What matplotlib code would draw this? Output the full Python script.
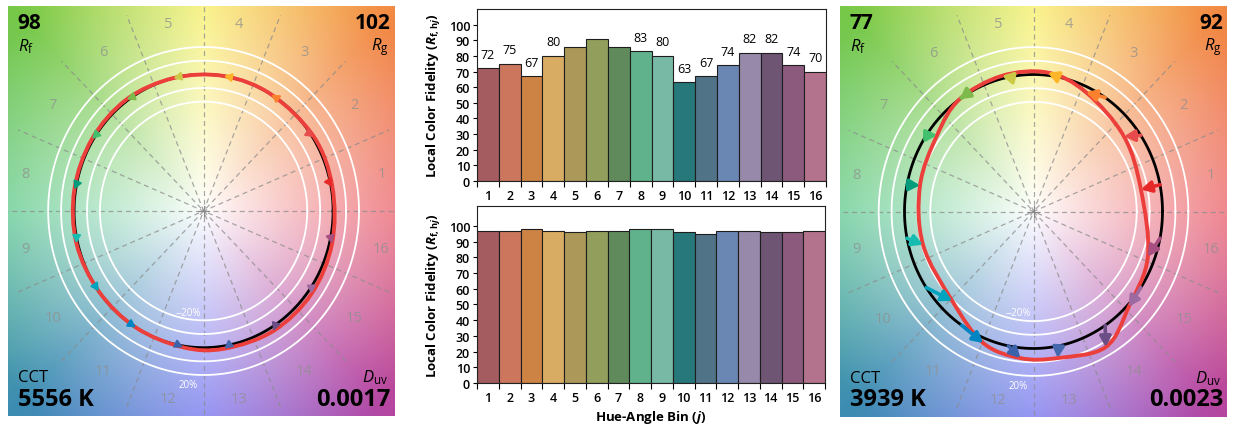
import numpy as np
import matplotlib
matplotlib.use('Agg')
import matplotlib.pyplot as plt
from matplotlib.path import Path
from matplotlib.patches import PathPatch

plt.rcParams['font.family'] = ['Open Sans', 'DejaVu Sans']
plt.rcParams['mathtext.fontset'] = 'custom'
plt.rcParams['mathtext.rm'] = 'Open Sans'
plt.rcParams['mathtext.it'] = 'Open Sans:italic'
plt.rcParams['mathtext.bf'] = 'Open Sans:bold'
plt.rcParams['mathtext.bfit'] = 'Open Sans:italic:bold'

# ---------------- data ----------------
bins = list(range(1, 17))
# local colour fidelity per hue bin
rfh_3939K = [72, 75, 67, 80, 86, 91, 86, 83, 80, 63, 67, 74, 82, 82, 74, 70]
rfh_5556K = [97, 97, 98, 97, 96, 97, 97, 98, 98, 96, 95, 97, 97, 96, 96, 97]

# colour vector graphic: test-source vertex per bin (relative radius, hue angle deg)
cvg_5556K_radius = [1.01, 1.01, 1.00, 1.00, 1.00, 1.01, 1.01, 1.01, 1.01, 1.00, 1.00, 1.01, 1.02, 1.03, 1.03, 1.02]
cvg_5556K_angle = [10.0, 32.5, 58.5, 81.0, 103.5, 126.0, 148.5, 171.0, 193.5, 216.0, 238.5, 261.0, 279.0, 301.5, 324.0, 346.5]
cvg_3939K_radius = [0.848, 0.89, 0.961, 1.02, 1.02, 1.0, 0.932, 0.90, 0.89, 0.907, 1.036, 1.075, 1.086, 1.137, 1.015, 0.946]
cvg_3939K_angle = [10.9, 38.0, 65.0, 83.8, 103.9, 125.0, 143.3, 167.8, 195.8, 226.0, 247.9, 264.6, 280.0, 299.5, 316.7, 339.6]

panel_5556K = {'Rf': '98', 'Rg': '102', 'CCT': '5556 K', 'Duv': '0.0017'}
panel_3939K = {'Rf': '77', 'Rg': '92', 'CCT': '3939 K', 'Duv': '0.0023'}

bar_colors = ['#A45C61', '#CC765E', '#CC8343', '#D9AC63', '#AC995A', '#929E5B',
              '#608A5C', '#5FB28B', '#78B9A5', '#27787A', '#507387', '#6A87B4',
              '#9689AA', '#6E5573', '#8C5A7D', '#B4738C']
arrow_colors = ['#e62828', '#e74b4b', '#fb812e', '#ffb529', '#cbca46', '#7eb94c',
                '#41c06d', '#009c7c', '#16bcb0', '#00a4bf', '#0085c3', '#3b62aa',
                '#4568ae', '#6a4e85', '#9d69a1', '#a74f81']

W, H = 1233, 427
fig = plt.figure(figsize=(W / 100, H / 100), dpi=100)


def px_axes(x0, y0, x1, y1):
    return fig.add_axes([x0 / W, 1 - y1 / H, (x1 - x0) / W, (y1 - y0) / H])


def closed_smooth_path(xs, ys):
    pts = np.column_stack([xs, ys])
    n = len(pts)
    verts = [pts[0]]
    codes = [Path.MOVETO]
    for i in range(n):
        p0, p1, p2, p3 = pts[i - 1], pts[i], pts[(i + 1) % n], pts[(i + 2) % n]
        c1 = p1 + (p2 - p0) / 6.0
        c2 = p2 - (p3 - p1) / 6.0
        verts += [c1, c2, p2]
        codes += [Path.CURVE4] * 3
    return Path(np.array(verts), codes)


def cvg_panel(ax, radius, angle, info, xlim, head_scale, shaft_lw):
    ylim = (-1.5, 1.5)
    ax.set_xlim(*xlim)
    ax.set_ylim(*ylim)
    ax.set_axis_off()
    # hue background
    gx = np.linspace(xlim[0], xlim[1], 400)
    gy = np.linspace(ylim[0], ylim[1], 420)
    X, Y = np.meshgrid(gx, gy)
    ang = np.degrees(np.arctan2(Y, X)) % 360
    rr = np.hypot(X, Y)
    a_deg = [0, 45, 90, 135, 180, 225, 270, 315, 360]
    a_rgb = np.array([(236, 105, 115), (242, 138, 68), (248, 240, 110), (118, 200, 72),
                      (105, 205, 150), (60, 140, 178), (122, 122, 240), (182, 70, 160),
                      (236, 105, 115)]) / 255.0
    rgb = np.stack([np.interp(ang, a_deg, a_rgb[:, k]) for k in range(3)], axis=-1)
    s = (np.clip(rr / 1.95, 0, 1) ** 0.9)[..., None]
    img = 1 - s * (1 - rgb)
    ax.imshow(img, extent=[xlim[0], xlim[1], ylim[0], ylim[1]], origin='lower',
              aspect='auto', zorder=0, interpolation='bilinear')
    # dashed bin boundaries
    for k in range(8):
        t = np.radians(k * 22.5)
        ax.plot([-1.55 * np.cos(t), 1.55 * np.cos(t)], [-1.55 * np.sin(t), 1.55 * np.sin(t)],
                ls=(0, (4, 3)), color='#8c8c8c', lw=0.9, alpha=0.75, zorder=1)
    ax.plot([-0.04, 0.04], [0, 0], color='#888888', lw=0.8, zorder=1)
    ax.plot([0, 0], [-0.04, 0.04], color='#888888', lw=0.8, zorder=1)
    th = np.linspace(0, 2 * np.pi, 361)
    for rc in (0.8, 0.9, 1.1, 1.2):
        ax.plot(rc * np.cos(th), rc * np.sin(th), color='white', lw=1.3, zorder=2)
    ax.text(-0.12, -0.74, '\u201220%', color='white', fontsize=7, ha='center', va='center', zorder=2)
    ax.text(-0.12, -1.27, '20%', color='white', fontsize=7, ha='center', va='center', zorder=2)
    # bin numbers
    for j in bins:
        t = np.radians((j - 0.5) * 22.5)
        ax.text(1.40 * np.cos(t), 1.40 * np.sin(t), str(j), color='#8f8f8f', alpha=0.75,
                fontsize=10.5, ha='center', va='center', zorder=2)
    # reference circle
    ax.plot(np.cos(th), np.sin(th), color='black', lw=2.0, zorder=3)
    # test curve
    tx = np.array(radius) * np.cos(np.radians(angle))
    ty = np.array(radius) * np.sin(np.radians(angle))
    ax.add_patch(PathPatch(closed_smooth_path(tx, ty), fc='none', ec='#EC3F3B', lw=2.8, zorder=4))
    # arrows
    for j in range(16):
        t = np.radians((j + 0.5) * 22.5)
        ax.annotate('', xy=(tx[j], ty[j]), xytext=(np.cos(t), np.sin(t)),
                    arrowprops=dict(arrowstyle='-|>,head_length=0.55,head_width=0.3',
                                    color=arrow_colors[j], lw=shaft_lw, shrinkA=0, shrinkB=0,
                                    mutation_scale=head_scale), zorder=5)
    # corner texts
    ax.text(0.025, 0.985, info['Rf'], transform=ax.transAxes, fontsize=15, fontweight='bold',
            ha='left', va='top')
    ax.text(0.027, 0.903, r'$R_\mathrm{f}$', transform=ax.transAxes, fontsize=12, ha='left', va='center')
    ax.text(0.99, 0.985, info['Rg'], transform=ax.transAxes, fontsize=15, fontweight='bold',
            ha='right', va='top')
    ax.text(0.985, 0.903, r'$R_\mathrm{g}$', transform=ax.transAxes, fontsize=12, ha='right', va='center')
    ax.text(0.025, 0.085, 'CCT', transform=ax.transAxes, fontsize=12, ha='left', va='baseline')
    ax.text(0.025, 0.028, info['CCT'], transform=ax.transAxes, fontsize=17, fontweight='bold',
            ha='left', va='baseline')
    ax.text(0.985, 0.085, r'$D_\mathrm{uv}$', transform=ax.transAxes, fontsize=12, ha='right', va='baseline')
    ax.text(0.99, 0.028, info['Duv'], transform=ax.transAxes, fontsize=17, fontweight='bold',
            ha='right', va='baseline')


ax_l = px_axes(8, 7, 394, 417)
cvg_panel(ax_l, cvg_5556K_radius, cvg_5556K_angle, panel_5556K, (-1.51, 1.47), 8, 1.5)
ax_r = px_axes(840, 7, 1227, 418)
cvg_panel(ax_r, cvg_3939K_radius, cvg_3939K_angle, panel_3939K, (-1.5, 1.5), 11, 2.6)

ylab = r'Local Color Fidelity ($\mathbfit{R}_{\mathbf{f,h}\mathbfit{j}}$)'


def bar_axes(ax, values, ymax):
    ax.bar(bins, values, width=1.0, color=bar_colors, edgecolor='#1e1e1e', linewidth=0.8, zorder=2)
    ax.set_xlim(0.5, 16.5)
    ax.set_ylim(0, ymax)
    ax.set_yticks(range(0, 101, 10))
    ax.set_xticks(np.arange(0.5, 17, 1.0))
    ax.set_xticklabels([])
    ax.set_xticks(bins, minor=True)
    ax.set_xticklabels([str(b) for b in bins], minor=True)
    ax.tick_params(axis='x', which='major', length=4, width=0.8, direction='out')
    ax.tick_params(axis='x', which='minor', length=0, labelsize=9, pad=6)
    ax.tick_params(axis='y', length=3, width=0.8, labelsize=9, pad=2)
    for lab in ax.get_xticklabels(minor=True) + ax.get_yticklabels():
        lab.set_fontweight('semibold')
    for sp in ax.spines.values():
        sp.set_linewidth(0.8)
        sp.set_color('#222222')
    ax.set_ylabel(ylab, fontsize=9.5, fontweight='bold', labelpad=4)


ax_t = px_axes(477, 10, 826, 182)
bar_axes(ax_t, rfh_3939K, 110)
raised = {5: 118.5, 6: 126.0, 7: 118.5}
for b, v in zip(bins, rfh_3939K):
    ax_t.text(b, raised.get(b, v + 9), str(v), ha='center', va='center', fontsize=9,
              clip_on=False, zorder=3,
              bbox=dict(boxstyle='square,pad=0.15', fc='white', ec='none'))

ax_b = px_axes(477, 207, 825, 384)
bar_axes(ax_b, rfh_5556K, 112.7)
ax_b.set_xlabel(r'Hue-Angle Bin ($\mathbfit{j}$)', fontsize=9.5, fontweight='bold', labelpad=3)

fig.savefig('out.png', dpi=100)
